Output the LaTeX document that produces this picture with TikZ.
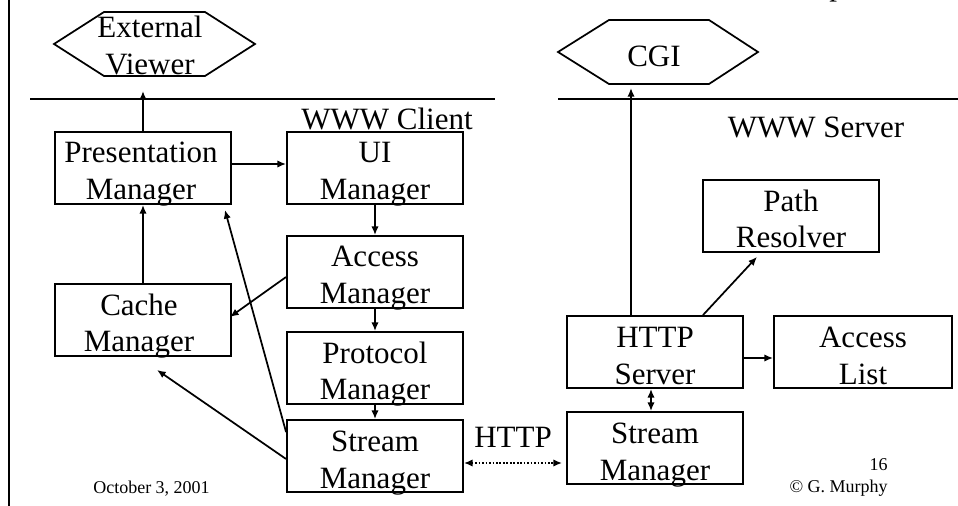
\documentclass[tikz,border=0pt]{standalone}
\usepackage{fontspec}
\setmainfont{Liberation Serif}
\usetikzlibrary{arrows.meta,calc}
\newcommand{\twol}[2]{\rule{0pt}{16.5pt}#1\\#2\rule[-5.25pt]{0pt}{5.25pt}}
\tikzset{
  box/.style={draw, line width=1.4pt, minimum width=132pt, minimum height=54pt, inner sep=0pt},
  lbl/.style={font=\fontsize{23.25}{27.75}\selectfont, align=center, inner sep=0pt},
  small/.style={font=\fontsize{13.5}{16}\selectfont, inner sep=0pt},
  rule/.style={line width=1.3pt},
  hexa/.style={draw, line width=1.3pt},
  arr/.style={line width=1.3pt, -{Latex[length=6.5pt,width=5.5pt]}},
  darr/.style={line width=1.3pt, {Latex[length=6.5pt,width=5.5pt]}-{Latex[length=6.5pt,width=5.5pt]}},
  dotarr/.style={line width=1.3pt, dash pattern=on 1.3pt off 1.3pt, {Latex[length=6.5pt,width=5.5pt]}-{Latex[length=6.5pt,width=5.5pt]}}
}
\begin{document}
\begin{tikzpicture}[x=0.75pt,y=-0.75pt]
\useasboundingbox (0,0) rectangle (958,506);
% frame and separators
\draw[rule] (9,0) -- (9,506);
\draw[rule] (30,99) -- (495,99);
\draw[rule] (558,99) -- (958,99);
% cut-off title fragment
\node[lbl, anchor=base west] (titlefrag) at (829,-4) {p};
% hexagons
\draw[hexa] (54,44) -- (104,12) -- (205,12) -- (255,44) -- (205,76) -- (104,76) -- cycle;
\node[lbl] (evt) at (150,49) {\twol{External}{Viewer}};
\draw[hexa] (558,52) -- (609,20) -- (709,20) -- (758,52) -- (709,84) -- (609,84) -- cycle;
\node[lbl, anchor=base] (cgit) at (654,67) {CGI};
\coordinate (evin) at (143,91);
\coordinate (cgiin) at (631,88);
% region labels
\node[lbl, anchor=base] (client) at (387,130) {WWW Client};
\node[lbl, anchor=base] (server) at (816,138) {WWW Server};
% client boxes
\node[box] (pm) at (143,168) {};
\node[lbl] (pmt) at ($(pm.center)+(-2,6)$) {\twol{Presentation}{Manager}};
\node[box] (ui) at (375,168) {};
\node[lbl] (uit) at ($(ui.center)+(0,6)$) {\twol{UI}{Manager}};
\node[box] (am) at (375,272) {};
\node[lbl] (amt) at ($(am.center)+(0,6)$) {\twol{Access}{Manager}};
\node[box] (prm) at (375,368) {};
\node[lbl] (prmt) at ($(prm.center)+(0,6)$) {\twol{Protocol}{Manager}};
\node[box] (sm) at (375,456) {};
\node[lbl] (smt) at ($(sm.center)+(0,6)$) {\twol{Stream}{Manager}};
\node[box] (cm) at (143,320) {};
\node[lbl] (cmt) at ($(cm.center)+(-4,6)$) {\twol{Cache}{Manager}};
% server boxes
\node[box] (pr) at (791,216) {};
\node[lbl] (prt) at ($(pr.center)+(0,6)$) {\twol{Path}{Resolver}};
\node[box] (hs) at (655,352) {};
\node[lbl] (hst) at ($(hs.center)+(0,6)$) {\twol{HTTP}{Server}};
\node[box, minimum width=133.5pt] (al) at (863,352) {};
\node[lbl] (alt) at ($(al.center)+(0,6)$) {\twol{Access}{List}};
\node[box] (ss) at (655,448) {};
\node[lbl] (sst) at ($(ss.center)+(0,6)$) {\twol{Stream}{Manager}};
% client connectors
\draw[arr] (pm.north) -- (evin);
\draw[arr] ($(pm.east)+(0,-4)$) -- ($(ui.west)+(0,-4)$);
\draw[arr] (ui.south) -- (am.north);
\draw[arr] (am.south) -- (prm.north);
\draw[arr] (prm.south) -- (sm.north);
\draw[arr] (cm.north) -- (pm.south);
\draw[arr] ($(am.west)+(0,5)$) -- ($(cm.east)+(-2,-3)$);
\draw[arr] ($(sm.north west)+(0,13)$) -- ($(pm.south east)+(-7,5)$);
\draw[arr] ($(sm.west)+(0,3)$) -- ($(cm.south)+(14,13)$);
% HTTP link
\draw[dotarr] ($(sm.east)+(0,7)$) -- ($(ss.west)+(-4,15)$);
\node[lbl, anchor=base] (httpl) at (513,447) {HTTP};
% server connectors
\draw[arr] ($(hs.north)+(-24,0)$) -- (cgiin);
\draw[arr] ($(hs.north)+(48,0)$) -- ($(pr.south)+(-34,4)$);
\draw[arr] ($(hs.east)+(0,6)$) -- ($(al.west)+(0,6)$);
\draw[darr] ($(hs.south)+(-4,0)$) -- ($(ss.north)+(-4,0)$);
% footer
\node[small, anchor=base west] (date) at (93,493) {October 3, 2001};
\node[small, anchor=base east] (page) at (888,470) {16};
\node[small, anchor=base east] (copy) at (888,492) {© G. Murphy};
\end{tikzpicture}
\end{document}
